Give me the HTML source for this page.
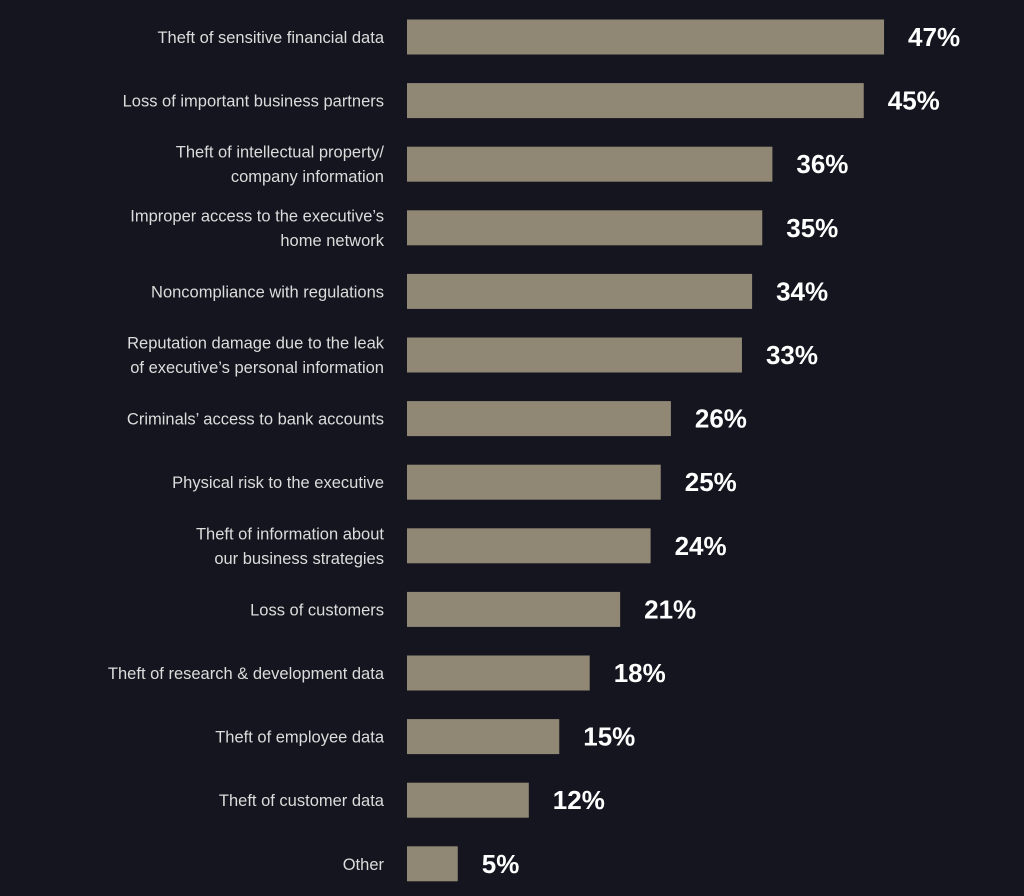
<!DOCTYPE html>
<html><head><meta charset="utf-8"><style>
html,body{margin:0;padding:0;background:#14151e;}
svg{display:block;}
.lbl{font-family:"Liberation Sans",sans-serif;font-size:16.5px;fill:#dcdcdc;}
.val{font-family:"Liberation Sans",sans-serif;font-size:26px;font-weight:bold;fill:#fff;}
</style></head><body>
<svg id="chart" width="1024" height="896" xmlns="http://www.w3.org/2000/svg">
<rect width="1024" height="896" fill="#14151e"/>
</svg>
<script>
const categories=[["Theft of sensitive financial data"],["Loss of important business partners"],["Theft of intellectual property/","company information"],["Improper access to the executive’s","home network"],["Noncompliance with regulations"],["Reputation damage due to the leak","of executive’s personal information"],["Criminals’ access to bank accounts"],["Physical risk to the executive"],["Theft of information about","our business strategies"],["Loss of customers"],["Theft of research & development data"],["Theft of employee data"],["Theft of customer data"],["Other"]];
const values=[47,45,36,35,34,33,26,25,24,21,18,15,12,5];
const valueLabels=["47%","45%","36%","35%","34%","33%","26%","25%","24%","21%","18%","15%","12%","5%"];
const NS="http://www.w3.org/2000/svg";
const svg=document.getElementById("chart");
const x0=407,pxPer=10.15,rowY0=37,rowStep=63.6,barH=35;
function xScale(v){return x0+v*pxPer;}
function yScale(i){return rowY0+i*rowStep;}
values.forEach((v,i)=>{
  const cy=yScale(i);
  const r=document.createElementNS(NS,"rect");
  r.setAttribute("x",x0);r.setAttribute("y",cy-barH/2);
  r.setAttribute("width",xScale(v)-x0);r.setAttribute("height",barH);
  r.setAttribute("fill","#918775");
  
  
  svg.appendChild(r);
  const t=document.createElementNS(NS,"text");
  t.setAttribute("x",xScale(v)+24);t.setAttribute("y",cy+9);
  t.setAttribute("class","val");t.textContent=valueLabels[i];
  
  
  svg.appendChild(t);
  const lines=categories[i];
  lines.forEach((ln,j)=>{
    const c=document.createElementNS(NS,"text");
    const off=lines.length===1?6:(j===0?-6.5:18);
    c.setAttribute("x",384);c.setAttribute("y",cy+off);
    c.setAttribute("text-anchor","end");c.setAttribute("class","lbl");
    c.textContent=ln;
    
    
    svg.appendChild(c);
  });
});
</script>
</body></html>
